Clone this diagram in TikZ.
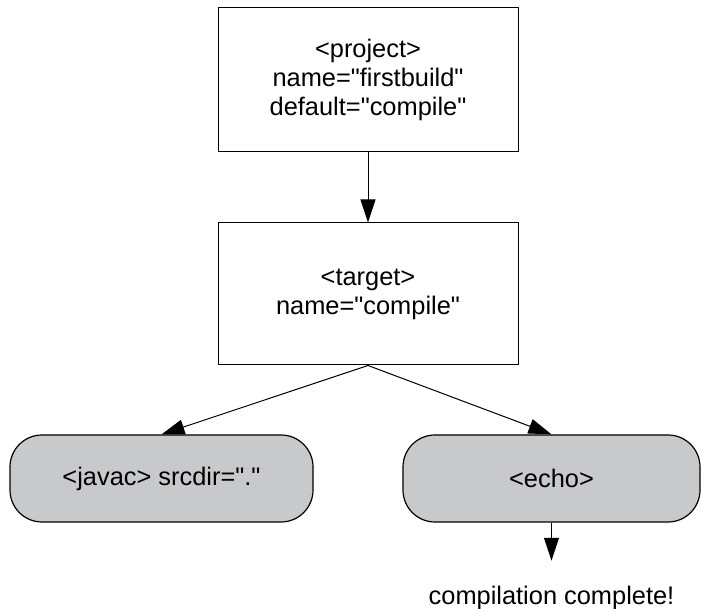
\documentclass[tikz,border=0pt]{standalone}
\usepackage{fontspec}
\setmainfont{Liberation Sans}
\usepackage{tikz}
\usetikzlibrary{positioning,arrows.meta}

\definecolor{taskgray}{RGB}{200,201,203}
\newcommand{\qt}[1]{\textquotedbl#1\textquotedbl}

\begin{document}
\begin{tikzpicture}[>={Triangle[length=11.5pt,width=7.5pt]},line join=bevel,
  every node/.style={font=\fontsize{12.7}{14.5}\selectfont},
  elembox/.style={draw,line width=0.5pt,minimum width=150pt,align=center,inner sep=0pt},
  taskbox/.style={draw,line width=0.6pt,fill=taskgray,rounded corners=16pt,
    minimum height=43.5pt,inner sep=0pt},
  flow/.style={black,line width=0.5pt,->},]
%%
\useasboundingbox (0pt,0pt) rectangle (350.5pt,304.5pt);
\node (project) at (184pt,264.5pt) [elembox,minimum height=72pt] {<project>\\name=\qt{firstbuild}\\default=\qt{compile}};
  \node (target) at (184pt,157.5pt) [elembox,minimum height=71pt] {<target>\\name=\qt{compile}};
  \node (javac) at (80.75pt,65.25pt) [taskbox,minimum width=151.5pt] {<javac> srcdir=\qt{.}};
  \node (echo) at (275.75pt,65.25pt) [taskbox,minimum width=148.5pt] {<echo>};
  \node (msg) at (275.75pt,5.5pt) [inner sep=0pt] {compilation complete!};
  \draw [flow] (project) -- (target);
  \draw [flow] (target.south) -- (javac.north);
  \draw [flow] (target.south) -- (echo.north);
  \draw [flow,shorten >=12.5pt] (echo) -- (msg);
%
\end{tikzpicture}
\end{document}
